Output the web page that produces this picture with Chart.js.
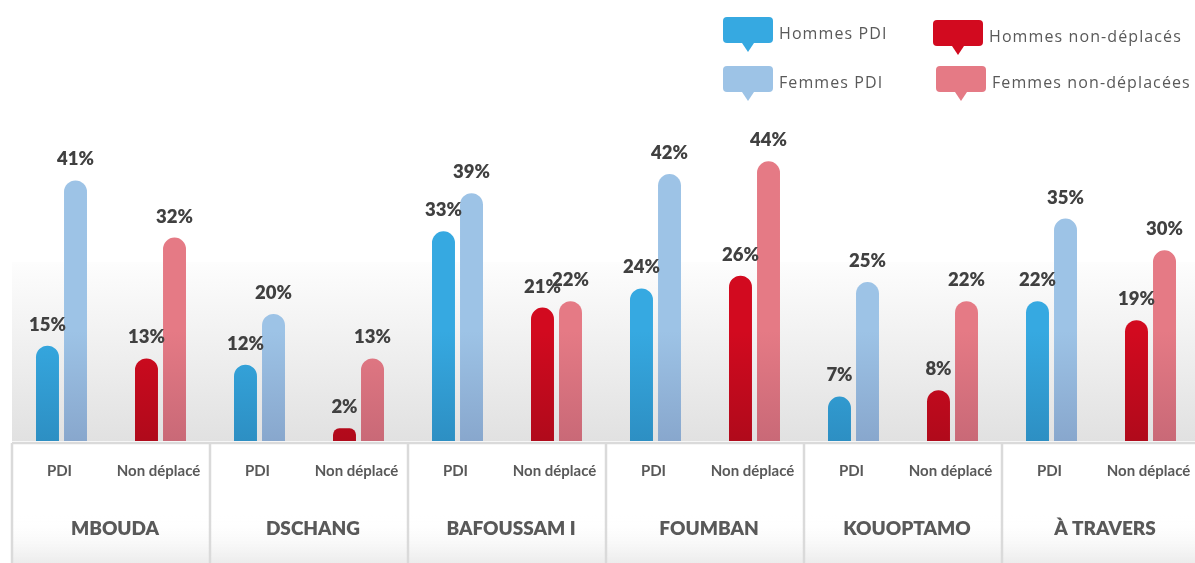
<!DOCTYPE html>
<html>
<head>
<meta charset="utf-8">
<script src="https://cdn.jsdelivr.net/npm/chart.js@4/dist/chart.umd.min.js"></script>
<style>
  html, body { margin: 0; padding: 0; background: #fff; overflow: hidden; width: 1195px; height: 563px; }
  #wrap { position: absolute; left: 0; top: 0; width: 1195px; height: 563px; overflow: hidden; }
  #c { position: absolute; left: 0; top: 0; }
  .leg { position: absolute; display: flex; align-items: center; font-family: "Open Sans", sans-serif; font-size: 16px; letter-spacing: 1.1px; color: #595959; white-space: nowrap; }
  .icon { position: relative; width: 50px; height: 26px; border-radius: 4px; margin-right: 6px; }
  .icon:after { content: ""; position: absolute; left: 19px; bottom: -9px; border-left: 6px solid transparent; border-right: 6px solid transparent; border-top: 9px solid var(--c); }
</style>
</head>
<body>
<div id="wrap">
  <canvas id="c" width="1200" height="563"></canvas>
</div>
<script>
// ---- data ----
const groups = ['MBOUDA', 'DSCHANG', 'BAFOUSSAM I', 'FOUMBAN', 'KOUOPTAMO', 'À TRAVERS'];
const subCategories = ['PDI', 'Non déplacé'];
const seriesNames = ['Hommes PDI', 'Femmes PDI', 'Hommes non-déplacés', 'Femmes non-déplacées'];
const hommesPDI = [15, 12, 33, 24, 7, 22];
const femmesPDI = [41, 20, 39, 42, 25, 35];
const hommesND = [13, 2, 21, 26, 8, 19];
const femmesND = [32, 13, 22, 44, 22, 30];

// ---- styles ----
const topColors = ['#36a9e1', '#9dc3e6', '#d20a1f', '#e57a85'];
const bottomColors = ['#2d8fc3', '#88a7cd', '#b00a1b', '#c96977'];

// build 12 categories (group x subcategory)
const labels = [];
groups.forEach(g => subCategories.forEach(s => labels.push(s)));
function spread(arr, slot) {
  const out = [];
  arr.forEach(v => { for (let i = 0; i < subCategories.length; i++) out.push(i === slot ? v : null); });
  return out;
}
const seriesData = [spread(hommesPDI, 0), spread(femmesPDI, 0), spread(hommesND, 1), spread(femmesND, 1)];

function grad(i) {
  return function (ctx) {
    const chart = ctx.chart;
    const ca = chart.chartArea;
    if (!ca) return topColors[i];
    const g = chart.ctx.createLinearGradient(0, ca.bottom - 110, 0, ca.bottom);
    g.addColorStop(0, topColors[i]);
    g.addColorStop(1, bottomColors[i]);
    return g;
  };
}

const datasets = seriesNames.map((name, i) => ({
  label: name,
  data: seriesData[i],
  backgroundColor: grad(i),
  borderRadius: { topLeft: 12, topRight: 12, bottomLeft: 0, bottomRight: 0 },
  borderSkipped: 'bottom',
  borderWidth: 0,
  skipNull: true,
  categoryPercentage: 0.566,
  barPercentage: 0.82
}));

const decor = {
  id: 'decor',
  beforeDatasetsDraw(chart) {
    const { ctx, chartArea: ca } = chart;
    ctx.save();
    const g = ctx.createLinearGradient(0, 262, 0, ca.bottom);
    g.addColorStop(0, '#fdfdfd');
    g.addColorStop(1, '#e1e1e1');
    ctx.fillStyle = g;
    ctx.fillRect(ca.left, 262, ca.right - ca.left, ca.bottom - 262);
    ctx.restore();
  },
  afterDatasetsDraw(chart) {
    const { ctx, chartArea: ca } = chart;
    const x = chart.scales.x;
    ctx.save();
    // value labels
    ctx.font = '800 18.5px Lato, sans-serif';
    ctx.fillStyle = '#404040';
    ctx.textAlign = 'center';
    ctx.textBaseline = 'middle';
    chart.data.datasets.forEach((ds, di) => {
      const meta = chart.getDatasetMeta(di);
      meta.data.forEach((bar, idx) => {
        const v = ds.data[idx];
        if (v === null || v === undefined) return;
        ctx.fillText(v + '%', bar.x, bar.y - 21);
      });
    });
    // axis table bottom gradient
    const bg = ctx.createLinearGradient(0, 515, 0, 563);
    bg.addColorStop(0, 'rgba(255,255,255,0)');
    bg.addColorStop(1, '#ececec');
    ctx.fillStyle = bg;
    ctx.fillRect(ca.left, 515, ca.right - ca.left, 48);
    // axis lines
    ctx.strokeStyle = '#dadada';
    ctx.lineWidth = 2.5;
    ctx.beginPath();
    ctx.moveTo(ca.left, ca.bottom + 2);
    ctx.lineTo(ca.right, ca.bottom + 2);
    ctx.stroke();
    const groupW = (ca.right - ca.left) / groups.length;
    for (let k = 0; k <= groups.length; k++) {
      const gx = ca.left + k * groupW;
      ctx.beginPath();
      ctx.moveTo(gx, ca.bottom + 2);
      ctx.lineTo(gx, 563);
      ctx.stroke();
    }
    // subcategory labels
    ctx.fillStyle = '#595959';
    ctx.font = 'bold 15px Lato, sans-serif';
    labels.forEach((l, i) => {
      ctx.fillText(l, x.getPixelForValue(i) - 2, 471);
    });
    // group labels
    ctx.font = '800 19px Lato, sans-serif';
    groups.forEach((g, k) => {
      ctx.fillText(g, ca.left + (k + 0.5) * groupW + 4, 529);
    });
    ctx.restore();
  }
};

new Chart(document.getElementById('c'), {
  type: 'bar',
  data: { labels, datasets },
  options: {
    responsive: false,
    animation: false,
    layout: { padding: { left: 12, right: 0, top: 155, bottom: 122 } },
    scales: {
      x: { display: false, grid: { display: false } },
      y: { display: false, min: 0, max: 45 }
    },
    plugins: { legend: { display: false }, tooltip: { enabled: false } }
  },
  plugins: [decor]
});

// HTML legend built from series names and colours
const legendPos = [
  { left: 723, top: 16 }, { left: 723, top: 65 },
  { left: 933, top: 19 }, { left: 936, top: 65 }
];
seriesNames.forEach((name, i) => {
  const d = document.createElement('div');
  d.className = 'leg';
  d.style.left = legendPos[i].left + 'px';
  d.style.top = legendPos[i].top + 'px';
  const ic = document.createElement('div');
  ic.className = 'icon';
  ic.style.background = topColors[i];
  ic.style.setProperty('--c', topColors[i]);
  const t = document.createElement('span');
  t.textContent = name;
  t.style.marginTop = '6px';
  d.appendChild(ic);
  d.appendChild(t);
  document.getElementById('wrap').appendChild(d);
});
</script>
</body>
</html>
